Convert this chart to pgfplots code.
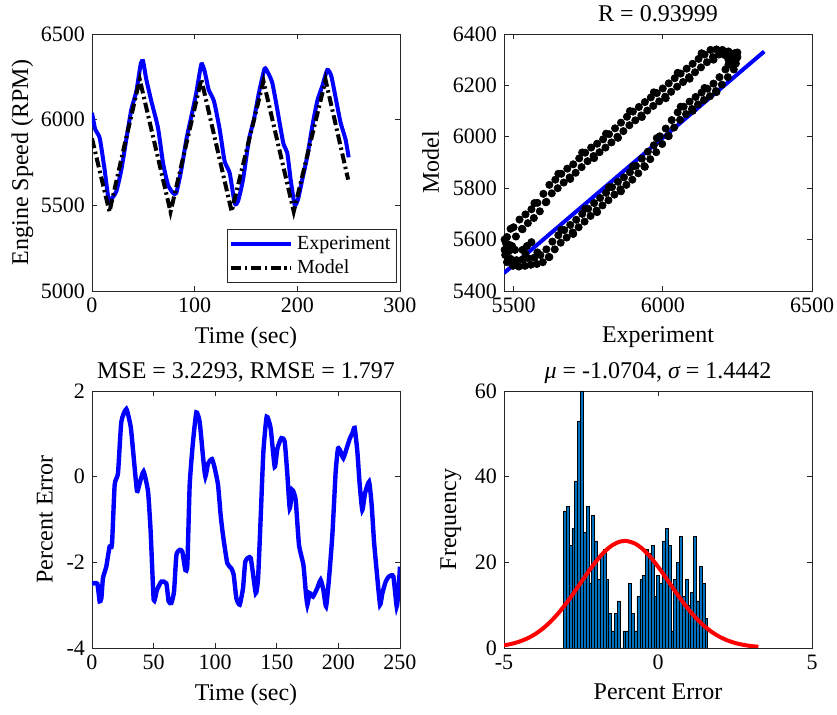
\documentclass[border=0pt]{standalone}
\usepackage{fontspec}
\setmainfont{Liberation Serif}
\usepackage{pgfplots}
\pgfplotsset{compat=1.18}

\definecolor{mblue}{RGB}{0,0,255}
\definecolor{histblue}{RGB}{0,114,189}
\definecolor{axgray}{RGB}{38,38,38}

% MATLAB-like look shared by the four panels
\pgfplotsset{
  mstyle/.style={
    scale only axis, width=154pt, height=128.5pt,
    anchor=south west,
    axis line style={axgray, line width=0.4pt},
    tick style={axgray, line width=0.4pt},
    major tick length=2.5pt,
    tick align=inside,
    tick label style={font=\fontsize{11}{13}\selectfont, text=black},
    label style={font=\fontsize{12}{14}\selectfont},
    every axis title/.style={at={(0.5,1)}, anchor=base, yshift=6pt,
      font=\fontsize{12}{14}\selectfont},
    /pgf/number format/assume math mode=true,
    /pgf/number format/1000 sep={},
    scaled ticks=false,
  },
}

\begin{document}
\begin{tikzpicture}
\useasboundingbox (0,0) rectangle (418.5pt,357.5pt);

% ---------- top left: time series ----------
\begin{axis}[mstyle, at={(46pt,212pt)},
  xmin=0, xmax=300, ymin=5000, ymax=6500,
  xtick={0,100,200,300}, ytick={5000,5500,6000,6500},
  xlabel={Time (sec)}, ylabel={Engine Speed (RPM)},
  ylabel style={yshift=-3pt},
  legend style={at={(rel axis cs:0.99,0.03)}, anchor=south east,
    font=\fontsize{10}{12}\selectfont, draw=axgray, line width=0.4pt,
    inner sep=1pt, row sep=0pt},
  legend cell align=left,
  legend image code/.code={\draw[#1] (0cm,0cm) -- (1.05cm,0cm);},
]
\addplot[mblue, line width=2pt, smooth, tension=0.35] coordinates {
(0,6040) (3.2,5942) (7.5,5893) (12.3,5708) (16.2,5533) (19.5,5542) (23.7,5581)
(28.6,5708) (33.4,5884) (38.3,6059) (43.2,6166) (47.4,6323) (49.7,6342)
(52.9,6235) (57.8,6108) (64.3,5952) (69.2,5747) (74.0,5620) (78.9,5572)
(82.1,5572) (87.0,5708) (91.9,5884) (96.8,6020) (101.6,6157) (106.5,6323)
(109.7,6283) (113.6,6176) (118.8,6108) (124.4,5942) (129.2,5757) (134.1,5689)
(139.0,5513) (142.2,5523) (147.1,5650) (152.9,5884) (157.7,6001) (162.6,6157)
(168.1,6297) (171.4,6274) (175.6,6215) (180.5,6059) (186.3,5864) (190.2,5806)
(193.5,5650) (197.4,5503) (200.6,5533) (204.8,5650) (209.7,5786) (214.6,5962)
(219.4,6108) (224.3,6196) (229.2,6290) (233.1,6254) (238.3,6098) (242.2,5981)
(247.0,5884) (250,5780)
};
\addlegendentry{Experiment}
\addplot[black, line width=2pt, dash pattern=on 5pt off 1.8pt on 1.2pt off 1.8pt] coordinates {
(0,5890) (17,5462) (32,5860) (46.5,6235) (76.5,5462) (106.5,6235) (136,5464)
(167,6225) (196.5,5464) (227.5,6232) (249.5,5650)
};
\addlegendentry{Model}
\end{axis}

% ---------- top right: regression ----------
\begin{axis}[mstyle, at={(252pt,212pt)},
  xmin=5468, xmax=6500, ymin=5400, ymax=6400,
  xtick={5500,6000,6500}, ytick={5400,5600,...,6400},
  xlabel={Experiment}, ylabel={Model}, title={R = 0.93999},
]
\addplot[only marks, mark=*, mark size=1.8pt, black] coordinates {
(5478,5610) (5485,5580) (5500,5648) (5508,5612) (5520,5678) (5528,5642)
(5540,5698) (5548,5664) (5560,5718) (5568,5684) (5580,5743) (5588,5710)
(5600,5778) (5608,5745) (5620,5813) (5628,5780) (5640,5833) (5648,5800)
(5660,5856) (5668,5822) (5680,5876) (5688,5842) (5700,5893) (5708,5860)
(5720,5916) (5728,5882) (5740,5938) (5748,5905) (5760,5958) (5768,5925)
(5780,5973) (5788,5940) (5800,5990) (5808,5958) (5820,6010) (5828,5978)
(5840,6033) (5848,6000) (5860,6055) (5868,6022) (5880,6078) (5888,6045)
(5900,6098) (5908,6064) (5920,6116) (5928,6083) (5940,6135) (5948,6102)
(5960,6153) (5968,6120) (5980,6170) (5988,6138) (6000,6188) (6008,6156)
(6020,6208) (6028,6175) (6040,6228) (6048,6195) (6060,6246) (6068,6213)
(6080,6265) (6088,6232) (6100,6284) (6108,6251) (6120,6303) (6128,6270)
(6140,6320) (6148,6290) (6160,6338) (6168,6310) (6180,6340) (6188,6320)
(6200,6338) (6208,6318) (6220,6332) (6228,6310) (6240,6325) (6245,6300)
(5490,5642) (5530,5640) (5570,5742) (5610,5747) (5650,5856) (5690,5836)
(5730,5939) (5770,5917) (5810,6012) (5850,5996) (5890,6100) (5930,6077)
(5970,6173) (6010,6150) (6050,6249) (6090,6226) (6130,6325) (6170,6300)
(5472,5540) (5478,5512) (5490,5525) (5498,5498) (5510,5520) (5518,5495)
(5530,5522) (5538,5498) (5550,5527) (5558,5502) (5570,5530) (5578,5505)
(5590,5540) (5598,5512) (5610,5562) (5618,5532) (5630,5592) (5638,5562)
(5650,5617) (5658,5588) (5670,5637) (5678,5608) (5690,5657) (5698,5628)
(5710,5677) (5718,5648) (5730,5700) (5738,5670) (5750,5720) (5758,5692)
(5770,5742) (5778,5713) (5790,5762) (5798,5733) (5810,5782) (5818,5753)
(5830,5804) (5838,5775) (5850,5825) (5858,5796) (5870,5842) (5878,5813)
(5890,5862) (5898,5833) (5910,5887) (5918,5858) (5930,5915) (5938,5886)
(5950,5942) (5958,5913) (5970,5967) (5978,5940) (5990,6002) (5998,5972)
(6010,6032) (6018,6003) (6030,6065) (6038,6036) (6050,6095) (6058,6066)
(6070,6117) (6078,6088) (6090,6137) (6098,6108) (6110,6155) (6118,6126)
(6130,6172) (6138,6143) (6150,6187) (6158,6158) (6170,6207) (6178,6178)
(6190,6232) (6198,6203) (6210,6262) (6218,6232) (6230,6290) (6238,6262)
(5540,5545) (5580,5550) (5620,5532) (5660,5638) (5700,5622) (5740,5720)
(5780,5707) (5820,5804) (5860,5788) (5900,5885) (5940,5883) (5980,5995)
(6020,6003) (6060,6117) (6100,6101) (6140,6190) (6180,6174) (6220,6280)
(5470,5560) (5475,5585) (5470,5600) (5485,5555) (5495,5575) (5505,5560)
(5530,5560) (5545,5575) (5560,5590)
(6245,6285) (6250,6310) (6235,6318) (6220,6300) (6250,6328)
};
\addplot[mblue, line width=2pt] coordinates {(5468,5470) (6340,6332)};
\end{axis}

% ---------- bottom left: percent error ----------
\begin{axis}[mstyle, at={(46pt,33.5pt)},
  xmin=0, xmax=250, ymin=-4, ymax=2,
  xtick={0,50,...,250}, ytick={-4,-2,0,2},
  xlabel={Time (sec)}, ylabel={Percent Error},
  title={MSE = 3.2293, RMSE = 1.797},
]
\addplot[mblue, line width=2.2pt, smooth, tension=0.3] coordinates {
(0,-2.50) (4.3,-2.50) (6.2,-2.91) (7.6,-2.84) (8.9,-2.37) (11.6,-2.10)
(14.3,-1.63) (16.2,-1.59) (18.4,-0.19) (21.1,0.08) (23.8,1.28) (27.9,1.58)
(31.4,1.17) (33.3,0.62) (36.5,-0.33) (38.7,-0.15) (41.9,0.12) (45.5,-0.35)
(47.6,-1.28) (50.1,-2.88) (52.8,-2.64) (56.3,-2.45) (60.3,-2.49) (62.2,-2.91)
(64.4,-2.95) (66.6,-2.68) (68.5,-1.83) (71.2,-1.71) (73.3,-1.75) (75.8,-2.18)
(77.4,-2.06) (79.3,-0.19) (82.0,0.82) (84.7,1.50) (87.4,1.28) (90.1,0.47)
(92.0,0.00) (94.2,0.31) (97.4,0.41) (99.6,0.20) (102.3,-0.19) (104.4,-0.89)
(106.3,-1.36) (109.8,-2.02) (113.1,-2.14) (115.0,-2.29) (117.2,-2.84)
(119.9,-2.99) (122.6,-2.60) (124.5,-1.98) (128.8,-1.90) (132.9,-2.72)
(134.8,-2.37) (136.9,-0.97) (139.1,0.58) (141.8,1.40) (145.0,1.13)
(148.3,0.23) (150.5,0.66) (153.7,0.90) (156.4,0.82) (158.6,0.04)
(160.5,-0.74) (162.6,-0.31) (165.3,-0.54) (168.0,-1.59) (171.6,-2.06)
(173.5,-2.68) (174.8,-2.99) (176.7,-2.72) (179.4,-2.80) (182.9,-2.60)
(185.6,-2.41) (187.8,-2.64) (190.0,-3.03) (192.4,-2.37) (195.1,-1.36)
(197.8,0.12) (199.7,0.66) (201.9,0.58) (204.0,0.43) (206.7,0.66)
(209.4,0.90) (211.3,1.01) (213.2,1.14) (215.4,0.58) (217.3,-0.19)
(219.4,-0.78) (221.6,-0.39) (224.9,-0.12) (227.0,-0.66) (228.9,-1.51)
(231.1,-2.21) (233.8,-2.99) (235.7,-2.72) (238.4,-2.45) (241.1,-2.33)
(244.6,-2.33) (247.3,-3.03) (248.7,-2.68) (250,-2.10)
};
\end{axis}

% ---------- bottom right: histogram with normal fit ----------
\begin{axis}[mstyle, at={(252pt,33.5pt)},
  xmin=-5, xmax=5, ymin=0, ymax=60,
  xtick={-5,0,5}, ytick={0,20,40,60},
  xlabel={Percent Error}, ylabel={Frequency},
  title={{\itshape μ} = -1.0704, {\itshape σ} = 1.4442},
]
\addplot[ybar interval, fill=histblue, draw=black, line width=0.3pt] coordinates {
(-3.070,32) (-2.978,33) (-2.886,24) (-2.795,28) (-2.703,39) (-2.611,53)
(-2.519,60) (-2.427,27) (-2.336,33) (-2.244,15) (-2.152,31) (-2.060,25)
(-1.968,16) (-1.877,22) (-1.785,23) (-1.693,16) (-1.601,8) (-1.509,4)
(-1.418,8) (-1.326,11) (-1.234,0) (-1.142,4) (-1.050,4) (-0.959,15)
(-0.867,8) (-0.775,4) (-0.683,12) (-0.591,16) (-0.500,17) (-0.408,23)
(-0.316,22) (-0.224,24) (-0.132,12) (-0.041,17) (0.051,15) (0.143,25)
(0.235,28) (0.327,24) (0.418,4) (0.510,16) (0.602,20) (0.694,26)
(0.786,12) (0.877,16) (0.969,10) (1.061,13) (1.153,26) (1.245,11)
(1.336,19) (1.428,15) (1.520,7) (1.612,0)
};
\addplot[red, line width=2pt, smooth] coordinates {
(-5.0,0.617) (-4.75,0.973) (-4.5,1.490) (-4.25,2.215) (-4.0,3.195)
(-3.75,4.471) (-3.5,6.073) (-3.25,8.004) (-3.0,10.24) (-2.75,12.71)
(-2.5,15.32) (-2.25,17.91) (-2.0,20.32) (-1.75,22.38) (-1.5,23.92)
(-1.25,24.81) (-1.0704,25.0) (-1.0,24.97) (-0.75,24.39) (-0.5,23.12)
(-0.25,21.27) (0,19.00) (0.25,16.46) (0.5,13.84) (0.75,11.30) (1.0,8.947)
(1.25,6.876) (1.5,5.129) (1.75,3.713) (2.0,2.609) (2.25,1.779) (2.5,1.177)
(2.75,0.756) (3.0,0.471) (3.26,0.279)
};
\end{axis}
\end{tikzpicture}
\end{document}
